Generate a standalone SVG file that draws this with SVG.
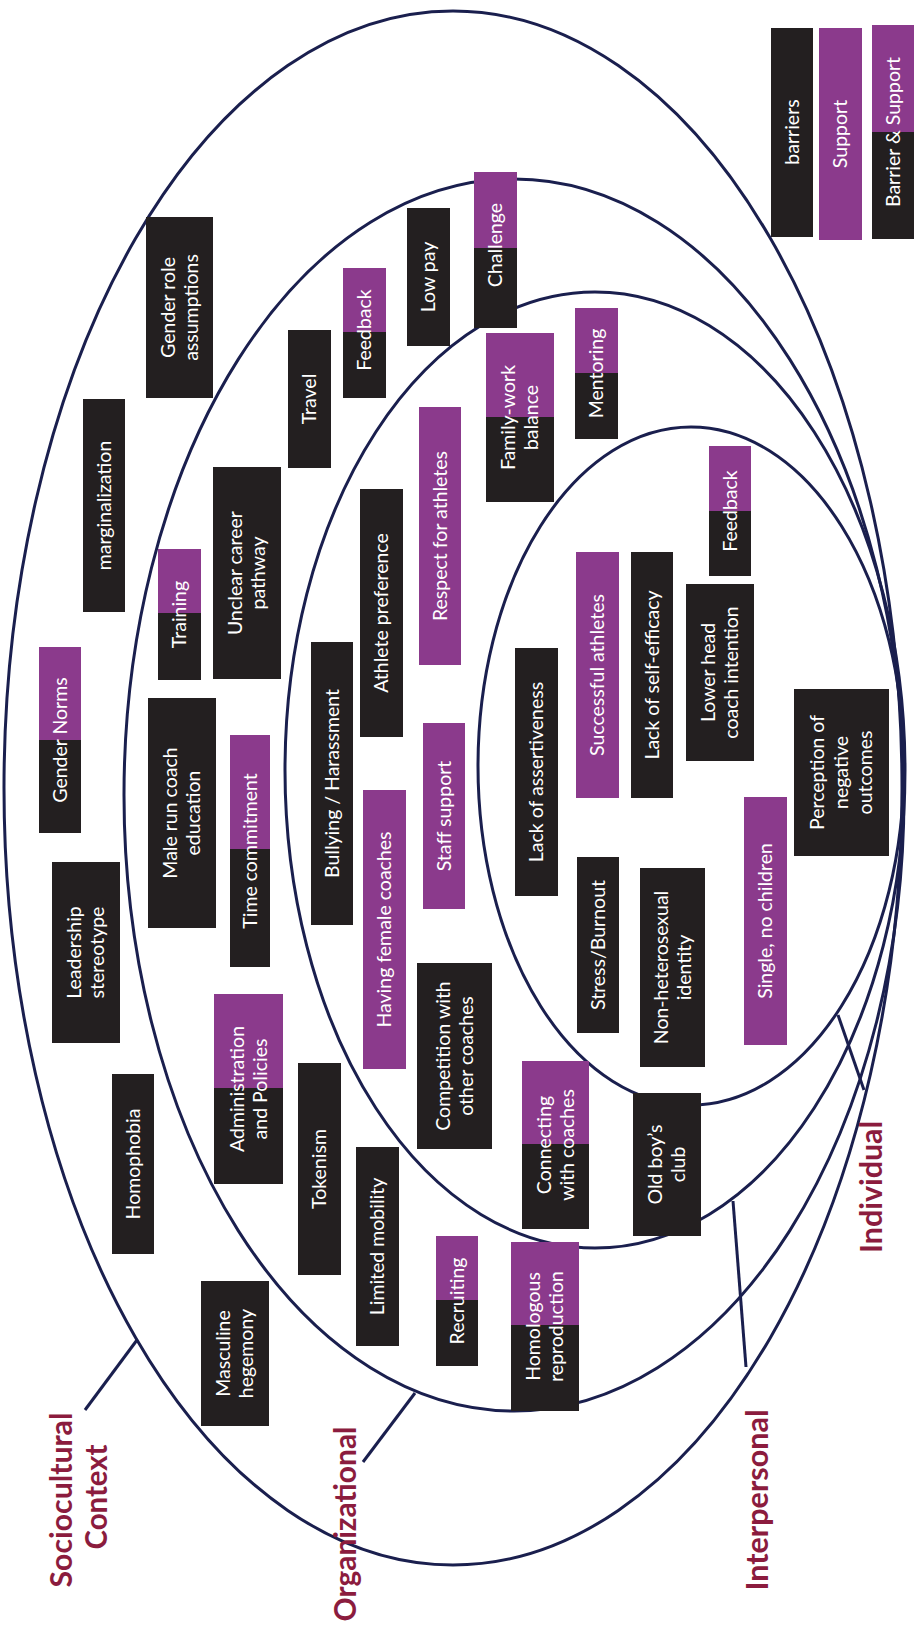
<svg xmlns="http://www.w3.org/2000/svg" width="922" height="1639" viewBox="0 0 922 1639">
<style>
.ring{fill:none;stroke:#1a1f4e;stroke-width:3}
.lead{fill:none;stroke:#1a1f4e;stroke-width:3}
.b{fill:#231f20}
.p{fill:#8b3a8c}
.t{font-family:Lato,'Liberation Sans',sans-serif;font-size:19.5px;fill:#ffffff;text-anchor:middle}
.lbl{font-family:Lato,'Liberation Sans',sans-serif;font-weight:bold;font-size:30px;fill:#8b1c3e;text-anchor:middle}
</style>
<rect width="922" height="1639" fill="#ffffff"/>
<g id="rings">
<ellipse class="ring" cx="453" cy="788" rx="449" ry="777"/>
<ellipse class="ring" cx="514" cy="795" rx="390" ry="616"/>
<ellipse class="ring" cx="595" cy="770" rx="310" ry="478"/>
<ellipse class="ring" cx="691" cy="766" rx="213" ry="339"/>
</g>
<g id="connectors">
<line class="lead" x1="85" y1="1410" x2="137" y2="1340"/>
<line class="lead" x1="363" y1="1462" x2="415" y2="1393"/>
<line class="lead" x1="746" y1="1367" x2="733" y2="1201"/>
<line class="lead" x1="838" y1="1015" x2="864" y2="1090"/>
</g>
<g id="labels">
<text class="lbl" transform="translate(72,1500) rotate(-90)" textLength="175" lengthAdjust="spacingAndGlyphs">Sociocultural</text>
<text class="lbl" transform="translate(107,1497) rotate(-90)" textLength="105" lengthAdjust="spacingAndGlyphs">Context</text>
<text class="lbl" transform="translate(356,1524) rotate(-90)" textLength="195" lengthAdjust="spacingAndGlyphs">Organizational</text>
<text class="lbl" transform="translate(768,1500) rotate(-90)" textLength="181" lengthAdjust="spacingAndGlyphs">Interpersonal</text>
<text class="lbl" transform="translate(882,1187) rotate(-90)" textLength="132" lengthAdjust="spacingAndGlyphs">Individual</text>
</g>
<g id="legend-barriers"><rect class="b" x="771" y="28" width="42" height="209"/><text class="t" transform="translate(792,132) rotate(-90)" y="6.5">barriers</text></g>
<g id="legend-support"><rect class="p" x="819" y="28" width="43" height="212"/><text class="t" transform="translate(840.5,134) rotate(-90)" y="6.5">Support</text></g>
<g id="legend-both"><rect class="b" x="872" y="25" width="42" height="214"/><rect class="p" x="872" y="25" width="42" height="107"/><text class="t" transform="translate(893,132) rotate(-90)" y="6.5">Barrier &amp; Support</text></g>

<g id="gender-role"><rect class="b" x="146" y="217" width="67" height="181"/><text class="t" transform="translate(179.5,307.5) rotate(-90)"><tspan x="0" y="-5">Gender role</tspan><tspan x="0" y="18">assumptions</tspan></text></g>
<g id="marginalization"><rect class="b" x="83" y="399" width="42" height="213"/><text class="t" transform="translate(104,505.5) rotate(-90)" y="6.5">marginalization</text></g>
<g id="travel"><rect class="b" x="288" y="330" width="43" height="138"/><text class="t" transform="translate(309.5,399) rotate(-90)" y="6.5">Travel</text></g>
<g id="feedback-org"><rect class="b" x="343" y="268" width="43" height="130"/><rect class="p" x="343" y="268" width="43" height="64"/><text class="t" transform="translate(364.5,330) rotate(-90)" y="6.5">Feedback</text></g>
<g id="low-pay"><rect class="b" x="407" y="208" width="43" height="138"/><text class="t" transform="translate(428.5,277) rotate(-90)" y="6.5">Low pay</text></g>
<g id="challenge"><rect class="b" x="474" y="172" width="43" height="156"/><rect class="p" x="474" y="172" width="43" height="76"/><text class="t" transform="translate(495.5,245) rotate(-90)" y="6.5">Challenge</text></g>
<g id="family-work"><rect class="b" x="486" y="333" width="68" height="169"/><rect class="p" x="486" y="333" width="68" height="84"/><text class="t" transform="translate(520,417.5) rotate(-90)"><tspan x="0" y="-5">Family-work</tspan><tspan x="0" y="18">balance</tspan></text></g>
<g id="mentoring"><rect class="b" x="575" y="308" width="43" height="131"/><rect class="p" x="575" y="308" width="43" height="65"/><text class="t" transform="translate(596.5,373.5) rotate(-90)" y="6.5">Mentoring</text></g>
<g id="respect"><rect class="p" x="419" y="407" width="42" height="258"/><text class="t" transform="translate(440,536) rotate(-90)" y="6.5">Respect for athletes</text></g>
<g id="gender-norms"><rect class="b" x="39" y="647" width="42" height="186"/><rect class="p" x="39" y="647" width="42" height="93"/><text class="t" transform="translate(60,740) rotate(-90)" y="6.5">Gender Norms</text></g>
<g id="training"><rect class="b" x="158" y="549" width="43" height="131"/><rect class="p" x="158" y="549" width="43" height="64"/><text class="t" transform="translate(179.5,614.5) rotate(-90)" y="6.5">Training</text></g>
<g id="unclear-career"><rect class="b" x="213" y="467" width="68" height="212"/><text class="t" transform="translate(247,573) rotate(-90)"><tspan x="0" y="-5">Unclear career</tspan><tspan x="0" y="18">pathway</tspan></text></g>
<g id="male-run"><rect class="b" x="148" y="698" width="68" height="230"/><text class="t" transform="translate(182,813) rotate(-90)"><tspan x="0" y="-5">Male run coach</tspan><tspan x="0" y="18">education</tspan></text></g>
<g id="time-commitment"><rect class="b" x="230" y="735" width="40" height="232"/><rect class="p" x="230" y="735" width="40" height="114"/><text class="t" transform="translate(250,851) rotate(-90)" y="6.5">Time commitment</text></g>
<g id="bullying"><rect class="b" x="311" y="642" width="42" height="283"/><text class="t" transform="translate(332,783.5) rotate(-90)" y="6.5">Bullying / Harassment</text></g>
<g id="athlete-pref"><rect class="b" x="360" y="489" width="43" height="248"/><text class="t" transform="translate(381.5,613) rotate(-90)" y="6.5">Athlete preference</text></g>
<g id="female-coaches"><rect class="p" x="363" y="790" width="43" height="279"/><text class="t" transform="translate(384.5,929.5) rotate(-90)" y="6.5">Having female coaches</text></g>
<g id="staff-support"><rect class="p" x="423" y="723" width="42" height="186"/><text class="t" transform="translate(444,816) rotate(-90)" y="6.5">Staff support</text></g>
<g id="assertiveness"><rect class="b" x="515" y="648" width="43" height="248"/><text class="t" transform="translate(536.5,772) rotate(-90)" y="6.5">Lack of assertiveness</text></g>
<g id="successful"><rect class="p" x="576" y="552" width="43" height="246"/><text class="t" transform="translate(597.5,675) rotate(-90)" y="6.5">Successful athletes</text></g>
<g id="self-efficacy"><rect class="b" x="631" y="552" width="42" height="246"/><text class="t" transform="translate(652,675) rotate(-90)" y="6.5">Lack of self-efficacy</text></g>
<g id="feedback-ind"><rect class="b" x="709" y="446" width="42" height="130"/><rect class="p" x="709" y="446" width="42" height="65"/><text class="t" transform="translate(730,511) rotate(-90)" y="6.5">Feedback</text></g>
<g id="lower-head"><rect class="b" x="686" y="584" width="68" height="177"/><text class="t" transform="translate(720,672.5) rotate(-90)"><tspan x="0" y="-5">Lower head</tspan><tspan x="0" y="18">coach intention</tspan></text></g>
<g id="perception"><rect class="b" x="794" y="689" width="95" height="167"/><text class="t" transform="translate(841.5,772.5) rotate(-90)"><tspan x="0" y="-17.5">Perception of</tspan><tspan x="0" y="6.5">negative</tspan><tspan x="0" y="30.5">outcomes</tspan></text></g>
<g id="single"><rect class="p" x="744" y="797" width="43" height="248"/><text class="t" transform="translate(765.5,921) rotate(-90)" y="6.5">Single, no children</text></g>
<g id="stress"><rect class="b" x="577" y="857" width="42" height="176"/><text class="t" transform="translate(598,945) rotate(-90)" y="6.5">Stress/Burnout</text></g>
<g id="non-hetero"><rect class="b" x="640" y="868" width="65" height="199"/><text class="t" transform="translate(672.5,967.5) rotate(-90)"><tspan x="0" y="-5">Non-heterosexual</tspan><tspan x="0" y="18">identity</tspan></text></g>
<g id="competition"><rect class="b" x="417" y="963" width="75" height="186"/><text class="t" transform="translate(454.5,1056) rotate(-90)"><tspan x="0" y="-5">Competition with</tspan><tspan x="0" y="18">other coaches</tspan></text></g>
<g id="connecting"><rect class="b" x="522" y="1061" width="67" height="168"/><rect class="p" x="522" y="1061" width="67" height="83"/><text class="t" transform="translate(555.5,1145) rotate(-90)"><tspan x="0" y="-5">Connecting</tspan><tspan x="0" y="18">with coaches</tspan></text></g>
<g id="old-boys"><rect class="b" x="633" y="1093" width="68" height="143"/><text class="t" transform="translate(667,1164.5) rotate(-90)"><tspan x="0" y="-5">Old boy’s</tspan><tspan x="0" y="18">club</tspan></text></g>
<g id="leadership"><rect class="b" x="52" y="862" width="68" height="181"/><text class="t" transform="translate(86,952.5) rotate(-90)"><tspan x="0" y="-5">Leadership</tspan><tspan x="0" y="18">stereotype</tspan></text></g>
<g id="homophobia"><rect class="b" x="112" y="1074" width="42" height="180"/><text class="t" transform="translate(133,1164) rotate(-90)" y="6.5">Homophobia</text></g>
<g id="administration"><rect class="b" x="214" y="994" width="69" height="190"/><rect class="p" x="214" y="994" width="69" height="94"/><text class="t" transform="translate(248.5,1089) rotate(-90)"><tspan x="0" y="-5">Administration</tspan><tspan x="0" y="18">and Policies</tspan></text></g>
<g id="tokenism"><rect class="b" x="298" y="1063" width="43" height="212"/><text class="t" transform="translate(319.5,1169) rotate(-90)" y="6.5">Tokenism</text></g>
<g id="limited-mobility"><rect class="b" x="356" y="1147" width="43" height="199"/><text class="t" transform="translate(377.5,1246.5) rotate(-90)" y="6.5">Limited mobility</text></g>
<g id="masculine"><rect class="b" x="201" y="1281" width="68" height="145"/><text class="t" transform="translate(235,1353.5) rotate(-90)"><tspan x="0" y="-5">Masculine</tspan><tspan x="0" y="18">hegemony</tspan></text></g>
<g id="recruiting"><rect class="b" x="436" y="1236" width="42" height="130"/><rect class="p" x="436" y="1236" width="42" height="64"/><text class="t" transform="translate(457,1301) rotate(-90)" y="6.5">Recruiting</text></g>
<g id="homologous"><rect class="b" x="511" y="1242" width="68" height="169"/><rect class="p" x="511" y="1242" width="68" height="83"/><text class="t" transform="translate(545,1326.5) rotate(-90)"><tspan x="0" y="-5">Homologous</tspan><tspan x="0" y="18">reproduction</tspan></text></g>
</svg>
